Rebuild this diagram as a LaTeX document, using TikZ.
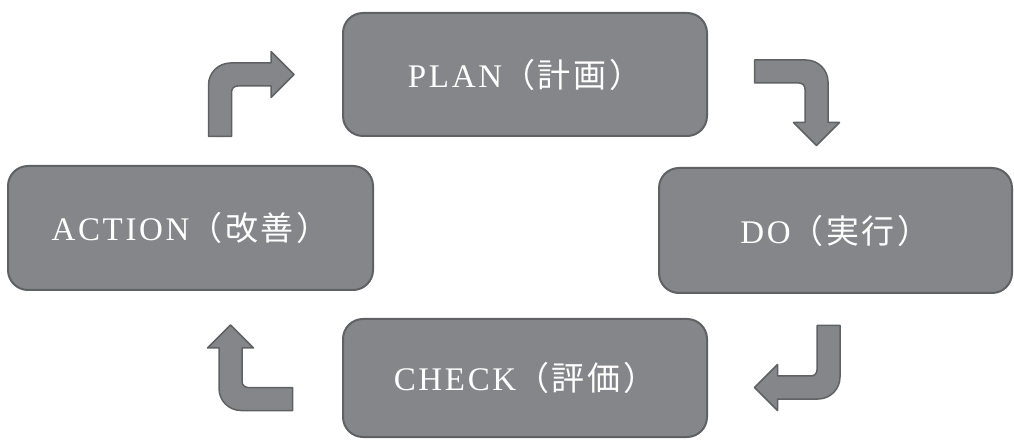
\documentclass[tikz,border=0pt]{standalone}
\usepackage{fontspec}
\usepackage{tikz}
\usepackage{xcolor}
\usetikzlibrary{positioning,calc}
\setmainfont{Liberation Serif}[LetterSpace=8]
\newfontfamily\cjk{Noto Sans CJK JP}[LetterSpace=8]
\definecolor{boxfill}{HTML}{85868A}
\definecolor{boxline}{HTML}{606164}
\newcommand{\stagefont}{\fontsize{33}{40}\selectfont}
\tikzset{
  stage/.style={draw=boxline,fill=boxfill,line width=2pt,rounded corners=20pt,
    text=white,font=\stagefont,inner sep=0pt},
  arrowshape/.style={draw=boxline,fill=boxfill,line width=1.5pt,line join=round},
  bentarrow/.pic={
    \draw[arrowshape] (-11.5,-62) -- (-11.5,-10.5) arc[start angle=180,end angle=90,radius=22]
      -- (51,11.5) -- (51,23) -- (74,0) -- (51,-23) -- (51,-11.5) -- (17.5,-11.5)
      arc[start angle=90,end angle=180,radius=6] -- (11.5,-62) -- cycle;
  }
}

\begin{document}
\begin{tikzpicture}[x=1pt,y=1pt]
    \useasboundingbox (0,0) rectangle (1014,439);

    % The four stages
    \node[stage,minimum width=364pt,minimum height=123pt] (plan) at (525,364.5) {PLAN{\cjk （計画）}};
    \node[stage,minimum width=353pt,minimum height=125pt] (do) at (835.5,208.5) {DO{\cjk （実行）}};
    \node[stage,minimum width=364pt,minimum height=118pt] (check) at (525,61) {CHECK{\cjk （評価）}};
    \node[stage,minimum width=365pt,minimum height=124pt] (action) at (190.5,211) {ACTION{\cjk （改善）}};

    % Bent arrows between the stages
    \pic at (220,364.5) {bentarrow};
    \pic[rotate=-90] at (816.5,367.5) {bentarrow};
    \pic[rotate=180] at (828.5,51.5) {bentarrow};
    \pic[rotate=90] at (230.5,40) {bentarrow};
\end{tikzpicture}
\end{document}
